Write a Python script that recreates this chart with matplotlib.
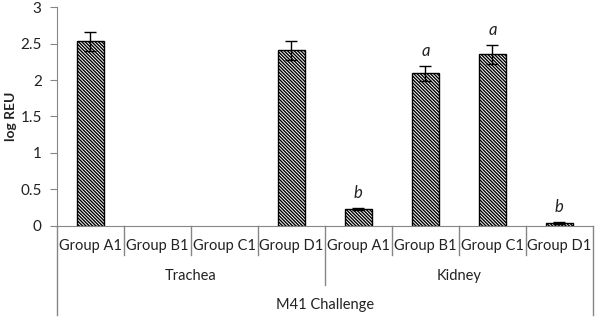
import matplotlib.pyplot as plt
import numpy as np

plt.rcParams['font.family'] = ['Lato', 'DejaVu Sans']
plt.rcParams['hatch.linewidth'] = 1.0

groups = ['Group A1', 'Group B1', 'Group C1', 'Group D1',
          'Group A1', 'Group B1', 'Group C1', 'Group D1']
tissues = ['Trachea', 'Kidney']
challenge = 'M41 Challenge'
values = [2.53, 0.0, 0.0, 2.41, 0.23, 2.09, 2.35, 0.04]
errors = [0.13, 0.0, 0.0, 0.13, 0.01, 0.10, 0.13, 0.01]
letters = ['', '', '', '', 'b', 'a', 'a', 'b']

axis_col = '#868686'
text_col = '#222222'

fig = plt.figure(figsize=(6, 3.2), dpi=100)
ax = fig.add_axes([0.095, 0.294, 0.893, 0.684])

x = np.arange(len(values))
for i in x:
    if values[i] <= 0:
        continue
    ax.bar(i, values[i], width=0.4, color='white', edgecolor='black',
           linewidth=1.0, hatch='\\' * 10, zorder=2)
    ax.errorbar(i, values[i], yerr=errors[i], fmt='none', ecolor='black',
                elinewidth=1.0, capsize=4, capthick=1.0, zorder=3)
    if letters[i]:
        ax.annotate(letters[i], (i, values[i] + errors[i]), xytext=(0, 5),
                    textcoords='offset points', ha='center', va='bottom',
                    fontsize=12, style='italic', color=text_col)

ax.set_xlim(-0.5, len(values) - 0.5)
ax.set_ylim(0, 3)
ax.set_yticks(np.arange(0, 3.01, 0.5))
ax.set_yticklabels(['0', '0.5', '1', '1.5', '2', '2.5', '3'])
ax.tick_params(axis='y', direction='out', length=5, color=axis_col,
               labelsize=11, labelcolor=text_col, pad=6)
ax.set_xticks([])
for s in ['top', 'right']:
    ax.spines[s].set_visible(False)
ax.spines['left'].set_color(axis_col)
ax.spines['bottom'].set_color(axis_col)
ax.set_ylabel('log REU', fontsize=10, fontweight='bold', color=text_col,
              va='center')
ax.yaxis.set_label_coords(-0.086, 0.5)

# multi-level category axis
tr = ax.get_xaxis_transform()
for b in np.arange(-0.5, len(values), 1.0):
    if b in (-0.5, len(values) - 0.5):
        y0 = -0.406
    elif b == 3.5:
        y0 = -0.27
    else:
        y0 = -0.132
    ax.plot([b, b], [0, y0], color=axis_col, lw=1.0, transform=tr,
            clip_on=False)
for i, g in enumerate(groups):
    ax.text(i, -0.091, g, transform=tr, ha='center', va='center',
            fontsize=10.5, color=text_col)
for j, t in enumerate(tissues):
    ax.text(1.5 + 4 * j, -0.228, t, transform=tr, ha='center', va='center',
            fontsize=10.5, color=text_col)
ax.text(3.5, -0.36, challenge, transform=tr, ha='center', va='center',
        fontsize=10.5, color=text_col)

fig.savefig('out.png', dpi=100)
